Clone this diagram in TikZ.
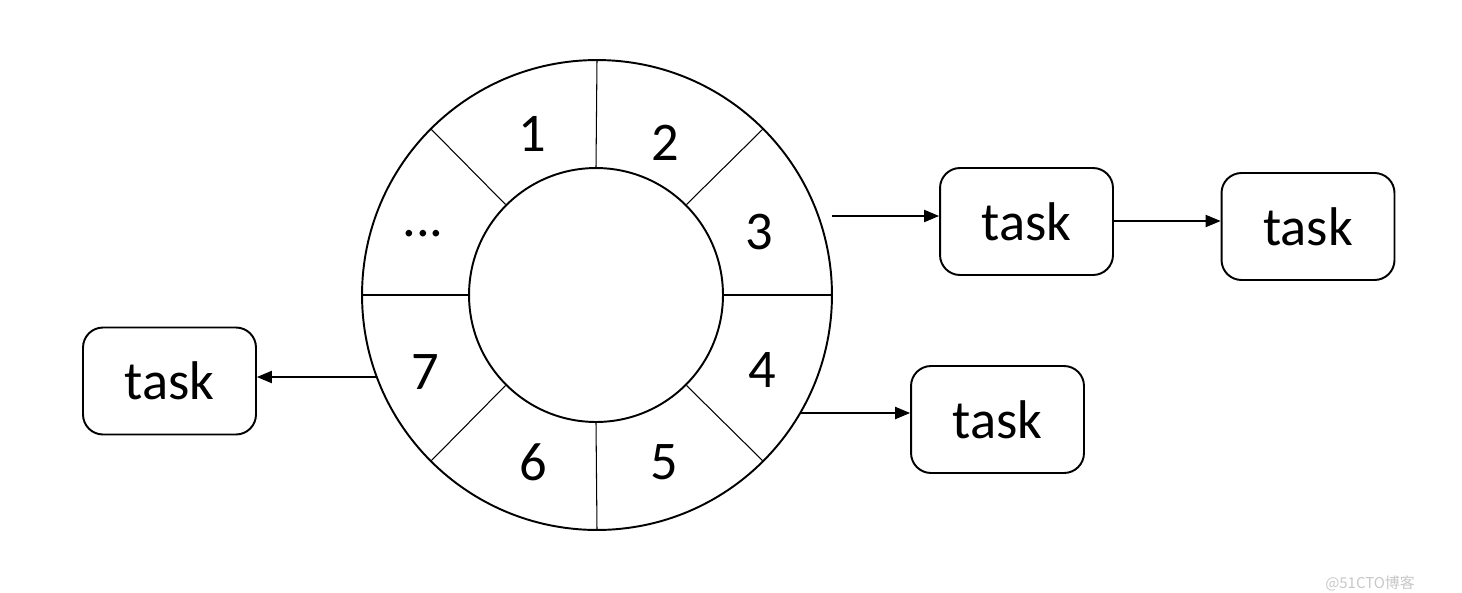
\documentclass[tikz,border=0pt]{standalone}
\usepackage{fontspec}
\setmainfont{Carlito}
\newfontfamily\cjkfont{Noto Sans CJK SC}
\usetikzlibrary{arrows.meta}
\tikzset{
  x=0.02cm, y=-0.02cm,
  ringline/.style={line width=1.1pt},
  divline/.style={line width=0.6pt},
  lbl/.style={font=\fontsize{31}{36}\selectfont, inner sep=0pt},
  taskbox/.style={draw, line width=1.1pt, rounded corners=0.4cm, minimum width=3.46cm, minimum height=2.14cm, font=\fontsize{31}{36}\selectfont, inner sep=0pt},
  arr/.style={line width=0.6pt, -{Triangle[length=8.5pt,width=7pt]}},
}
\begin{document}
\begin{tikzpicture}
\useasboundingbox (0,0) rectangle (1462,592);
% ring
\node (outer) [circle, draw, ringline, minimum size=9.4cm, inner sep=0pt] at (597,295) {};
\node (inner) [circle, draw, ringline, minimum size=5.08cm, inner sep=0pt] at (596,295) {};
\foreach \a in {0,45,...,315} {
  \draw[divline] (inner.\a) -- (outer.\a);
}
% labels
\node[lbl] (l1) at (532,134) {1};
\node[lbl] (l2) at (665,143) {2};
\node[lbl] (l3) at (759,232) {3};
\node[lbl] (l4) at (762,370) {4};
\node[lbl] (l5) at (664,462) {5};
\node[lbl] (l6) at (533,462) {6};
\node[lbl] (l7) at (425,372) {7};
\node[lbl, anchor=base] (ld) at (423,236) {...};
% task boxes
\node[taskbox] (t1) at (1026.5,221.5) {task};
\node[taskbox] (t2) at (1308,226.5) {task};
\node[taskbox] (t3) at (997.5,419.5) {task};
\node[taskbox] (tL) at (169.5,381) {task};
% arrows
\coordinate (s3) at (832,216);
\coordinate (s4) at (801,413);
\coordinate (s7) at (377,377);
\draw[arr] (s3) -- (s3 -| t1.west);
\draw[arr] (t1.east |- 0,221) -- (t2.west |- 0,221);
\draw[arr] (s4) -- (s4 -| t3.west);
\draw[arr] (s7) -- (s7 -| tL.east);
% watermark
\node[font=\cjkfont\fontsize{8.5}{10}\selectfont, text=black!22, inner sep=0pt] (wm) at (1370,583) {@51CTO博客};
\end{tikzpicture}
\end{document}
